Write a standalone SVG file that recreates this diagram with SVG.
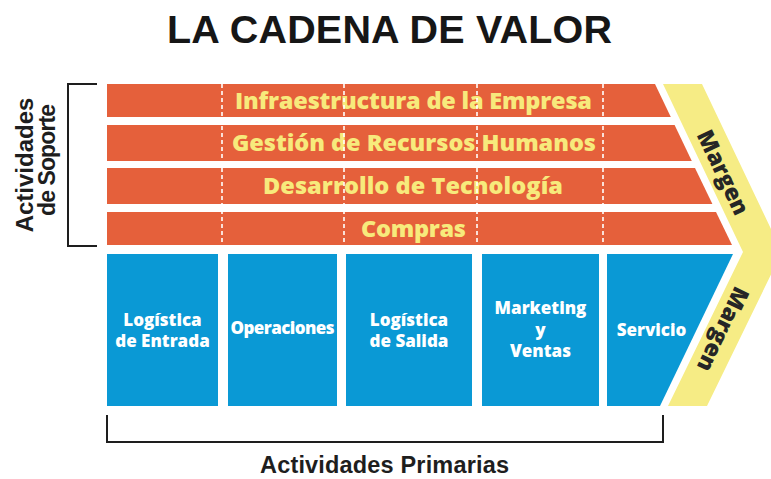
<svg xmlns="http://www.w3.org/2000/svg" width="771" height="479" viewBox="0 0 771 479">
<style>
.bg{fill:#ffffff}
.row{fill:#e5603b}
.box{fill:#0a99d5}
.band{fill:#f6ec85}
.dash{stroke:#ffffff;stroke-width:1.6;stroke-dasharray:4 3;fill:none}
.brk{stroke:#1e1e1e;stroke-width:2;fill:none}
.title{font-family:"Liberation Sans",Arial,sans-serif;font-weight:bold;fill:#161616}
.lbl{font-family:"Liberation Sans",Arial,sans-serif;font-weight:bold;fill:#1e1e1e}
.sup{font-family:"Open Sans","Noto Sans",sans-serif;font-weight:800;fill:#f7ea7c;font-size:23.5px;text-anchor:middle}
.pri{font-family:"Open Sans","Noto Sans",sans-serif;font-weight:800;fill:#ffffff;font-size:17px;text-anchor:middle}
.mar{font-family:"Open Sans","Noto Sans",sans-serif;font-weight:800;fill:#262626;font-size:23px;text-anchor:middle;dominant-baseline:central}
</style>
<rect class="bg" x="0" y="0" width="771" height="479"/>
<text class="title" x="389.5" y="43" font-size="39.5" text-anchor="middle" textLength="445">LA CADENA DE VALOR</text>

<g id="margen">
<polygon class="band" points="663,84 702,84 782,252 707,406 668,406 743,252"/>
<text class="mar" transform="translate(724,172) rotate(64.6)">Margen</text>
<text class="mar" transform="translate(724,330) rotate(115.4)">Margen</text>
</g>

<g id="infraestructura">
<polygon class="row" points="107,84 655,84 670.8,117 107,117"/>
<text class="sup" x="413.5" y="109" textLength="357">Infraestructura de la Empresa</text>
</g>
<g id="rrhh">
<polygon class="row" points="107,125 674.6,125 691.8,161 107,161"/>
<text class="sup" x="414" y="151" textLength="364">Gestión de Recursos Humanos</text>
</g>
<g id="tecnologia">
<polygon class="row" points="107,168 695,168 712.4,204 107,204"/>
<text class="sup" x="413" y="194" textLength="300">Desarrollo de Tecnología</text>
</g>
<g id="compras">
<polygon class="row" points="107,212 716,212 732,245 107,245"/>
<text class="sup" x="413.5" y="237" textLength="105">Compras</text>
</g>

<g id="divisiones">
<line class="dash" x1="222" y1="84" x2="222" y2="245"/>
<line class="dash" x1="344" y1="84" x2="344" y2="245"/>
<line class="dash" x1="477" y1="84" x2="477" y2="245"/>
<line class="dash" x1="603" y1="84" x2="603" y2="245"/>
</g>

<g id="logistica-entrada">
<rect class="box" x="107" y="254" width="111" height="152"/>
<text class="pri" x="162.5" y="326">Logística</text>
<text class="pri" x="162.5" y="347">de Entrada</text>
</g>
<g id="operaciones">
<rect class="box" x="228" y="254" width="109" height="152"/>
<text class="pri" x="282.5" y="334" textLength="104">Operaciones</text>
</g>
<g id="logistica-salida">
<rect class="box" x="346" y="254" width="126" height="152"/>
<text class="pri" x="409" y="326">Logística</text>
<text class="pri" x="409" y="347">de Salida</text>
</g>
<g id="marketing">
<rect class="box" x="482" y="254" width="117" height="152"/>
<text class="pri" x="540.5" y="314">Marketing</text>
<text class="pri" x="540.5" y="336">y</text>
<text class="pri" x="540.5" y="357">Ventas</text>
</g>
<g id="servicio">
<polygon class="box" points="607,254 733,254 660,406 607,406"/>
<text class="pri" x="651.5" y="336">Servicio</text>
</g>

<g id="brackets">
<polyline class="brk" points="97,84 68,84 68,246 97,246"/>
<polyline class="brk" points="107,415 107,442 663,442 663,415"/>
</g>

<g id="etiquetas">
<text class="lbl" font-size="24" text-anchor="middle" transform="translate(33,165) rotate(-90)">Actividades</text>
<text class="lbl" font-size="23" text-anchor="middle" transform="translate(55,160) rotate(-90)" textLength="112">de Soporte</text>
<text class="lbl" font-size="23.5" x="384.5" y="473" text-anchor="middle" textLength="249">Actividades Primarias</text>
</g>
</svg>
